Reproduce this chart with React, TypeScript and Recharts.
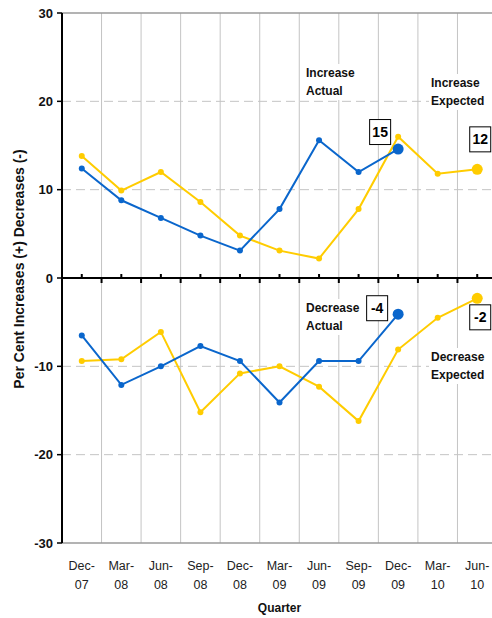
import React from 'react'
import {
  LineChart,
  Line,
  XAxis,
  YAxis,
  CartesianGrid,
  ReferenceLine,
  LabelList,
} from 'recharts'

const quarters = ['Dec-07', 'Mar-08', 'Jun-08', 'Sep-08', 'Dec-08', 'Mar-09', 'Jun-09', 'Sep-09', 'Dec-09', 'Mar-10', 'Jun-10']

const increaseActual = [12.4, 8.8, 6.8, 4.8, 3.1, 7.8, 15.6, 12.0, 14.6, null, null]
const increaseExpected = [13.8, 9.9, 12.0, 8.6, 4.8, 3.1, 2.2, 7.8, 16.0, 11.8, 12.3]
const decreaseActual = [-6.5, -12.1, -10.0, -7.7, -9.4, -14.1, -9.4, -9.4, -4.1, null, null]
const decreaseExpected = [-9.4, -9.2, -6.1, -15.2, -10.8, -10.0, -12.3, -16.2, -8.1, -4.5, -2.3]

const upperTicks = [0, 10, 20, 30]
const lowerTicks = [-30, -20, -10]
const upperDashes = [10, 20]
const lowerDashes = [-10, -20]

const BLUE = '#0a66cc'
const YELLOW = '#ffcc00'
const GRID = '#c4c4c4'
const FRAME = '#9a9a9a'

const CHART_W = 500
const AXIS_W = 62
const RIGHT_PAD = 3
const BAND = (CHART_W - AXIS_W - RIGHT_PAD) / quarters.length

const data = quarters.map((q, i) => ({
  idx: i,
  quarter: q,
  incActual: increaseActual[i],
  incExpected: increaseExpected[i],
  decActual: decreaseActual[i],
  decExpected: decreaseExpected[i],
}))

const lastIndex = (arr: (number | null)[]) => {
  let k = -1
  arr.forEach((v, i) => {
    if (v != null) k = i
  })
  return k
}

// boundaries between quarters for the vertical grid
const bandLines = ({ offset }: any) =>
  quarters.slice(1).map((_, i) => offset.left + (offset.width / quarters.length) * (i + 1))

const makeDot = (color: string, highlight: number) => (props: any) => {
  const { cx, cy, index, value } = props
  if (value == null || cy == null) return <g key={`d-${index}`} />
  return <circle key={`d-${index}`} cx={cx} cy={cy} r={index === highlight ? 5.5 : 3} fill={color} stroke="none" />
}

const makeBoxLabel = (highlight: number, dx: number, dy: number) => (props: any) => {
  const { x, y, value, index } = props
  if (index !== highlight || value == null) return null
  const w = 21
  const h = 25
  const cx = x + dx
  const cy = y + dy
  return (
    <g>
      <rect x={cx - w / 2} y={cy - h / 2} width={w} height={h} fill="#fff" stroke="#000" strokeWidth={1} />
      <text x={cx} y={cy + 5} textAnchor="middle" fontSize={14} fontWeight={700} fill="#000">
        {Math.round(value)}
      </text>
    </g>
  )
}

// zero line ticks: short up-tick at each quarter, short down-tick at each boundary
const ZeroTick = (props: any) => {
  const { x, y } = props
  return (
    <g>
      <line x1={x} y1={y} x2={x} y2={y - 4} stroke="#000" strokeWidth={2} />
      <line x1={x - BAND / 2} y1={y} x2={x - BAND / 2} y2={y + 5} stroke="#000" strokeWidth={2} />
    </g>
  )
}

const QuarterTick = (props: any) => {
  const { x, y, payload } = props
  const [mon, yr] = quarters[payload.value].split('-')
  return (
    <text x={x} y={y} textAnchor="middle" fontSize={12.5} fill="#222">
      <tspan x={x} dy={27}>{mon}-</tspan>
      <tspan x={x} dy={19}>{yr}</tspan>
    </text>
  )
}

const yTick = { fontSize: 13, fontWeight: 700, fill: '#111' }

// caption text boxes with white fill
const Caption = ({ x, y, w, lines }: { x: number; y: number; w: number; lines: string[] }) => (
  <g>
    <rect x={x - 2} y={y - 13} width={w} height={lines.length * 17 + 2} fill="#fff" />
    {lines.map((t, i) => (
      <text key={t} x={x} y={y + i * 17.5} fontSize={12} fontWeight={700} fill="#111">
        {t}
      </text>
    ))}
  </g>
)

export default function App() {
  const iaLast = lastIndex(increaseActual)
  const ieLast = lastIndex(increaseExpected)
  const daLast = lastIndex(decreaseActual)
  const deLast = lastIndex(decreaseExpected)

  return (
    <div
      style={{
        position: 'absolute',
        left: 0,
        top: 0,
        width: 492,
        height: 618,
        overflow: 'hidden',
        background: '#fff',
        fontFamily: '"Liberation Sans", Arial, sans-serif',
      }}
    >
      <div style={{ position: 'absolute', left: 0, top: 268 }}>
        <LineChart width={CHART_W} height={350} data={data} margin={{ top: 10, right: RIGHT_PAD, bottom: 0, left: 0 }}>
          <CartesianGrid horizontal={false} stroke={GRID} verticalCoordinatesGenerator={bandLines} />
          {lowerDashes.map((v) => (
            <ReferenceLine key={v} y={v} stroke={GRID} strokeDasharray="9 5" />
          ))}
          <XAxis
            dataKey="idx"
            type="number"
            domain={[-0.5, quarters.length - 0.5]}
            ticks={quarters.map((_, i) => i)}
            allowDataOverflow
            height={75}
            axisLine={{ stroke: FRAME, strokeWidth: 1.5 }}
            tickLine={false}
            tickSize={0}
            tickMargin={0}
            tick={<QuarterTick />}
            interval={0}
            label={{ value: 'Quarter', position: 'insideBottom', offset: 6, fontSize: 12, fontWeight: 700, fill: '#111' }}
          />
          <YAxis
            domain={[-30, 0]}
            ticks={lowerTicks}
            width={AXIS_W}
            axisLine={{ stroke: '#000', strokeWidth: 2 }}
            tickLine={{ stroke: '#000', strokeWidth: 1.5 }}
            tickSize={5}
            tickMargin={4}
            tick={yTick}
            allowDataOverflow
          />
          <Line
            dataKey="decExpected"
            stroke={YELLOW}
            strokeWidth={2}
            dot={makeDot(YELLOW, deLast)}
            activeDot={false}
            isAnimationActive={false}
          >
            <LabelList dataKey="decExpected" content={makeBoxLabel(deLast, 3, 19)} />
          </Line>
          <Line
            dataKey="decActual"
            stroke={BLUE}
            strokeWidth={2}
            dot={makeDot(BLUE, daLast)}
            activeDot={false}
            connectNulls={false}
            isAnimationActive={false}
          >
            <LabelList dataKey="decActual" content={makeBoxLabel(daLast, -21, -6)} />
          </Line>
        </LineChart>
      </div>

      <div style={{ position: 'absolute', left: 0, top: 0 }}>
        <LineChart width={CHART_W} height={290} data={data} margin={{ top: 13, right: RIGHT_PAD, bottom: 0, left: 0 }}>
          <CartesianGrid horizontal={false} stroke={GRID} verticalCoordinatesGenerator={bandLines} />
          {upperDashes.map((v) => (
            <ReferenceLine key={v} y={v} stroke={GRID} strokeDasharray="9 5" />
          ))}
          <ReferenceLine y={30} stroke={FRAME} strokeWidth={1.5} />
          <XAxis
            dataKey="idx"
            type="number"
            domain={[-0.5, quarters.length - 0.5]}
            ticks={quarters.map((_, i) => i)}
            allowDataOverflow
            height={12}
            axisLine={{ stroke: '#000', strokeWidth: 2 }}
            tickLine={false}
            tickSize={0}
            tickMargin={0}
            tick={<ZeroTick />}
            interval={0}
          />
          <YAxis
            domain={[0, 30]}
            ticks={upperTicks}
            width={AXIS_W}
            axisLine={{ stroke: '#000', strokeWidth: 2 }}
            tickLine={{ stroke: '#000', strokeWidth: 1.5 }}
            tickSize={5}
            tickMargin={4}
            tick={yTick}
            allowDataOverflow
          />
          <Line
            dataKey="incExpected"
            stroke={YELLOW}
            strokeWidth={2}
            dot={makeDot(YELLOW, ieLast)}
            activeDot={false}
            isAnimationActive={false}
          >
            <LabelList dataKey="incExpected" content={makeBoxLabel(ieLast, 3, -30)} />
          </Line>
          <Line
            dataKey="incActual"
            stroke={BLUE}
            strokeWidth={2}
            dot={makeDot(BLUE, iaLast)}
            activeDot={false}
            connectNulls={false}
            isAnimationActive={false}
          >
            <LabelList dataKey="incActual" content={makeBoxLabel(iaLast, -18, -17)} />
          </Line>
        </LineChart>
      </div>

      {/* axis title and series captions */}
      <svg width={492} height={618} style={{ position: 'absolute', left: 0, top: 0, pointerEvents: 'none' }}>
        <text
          transform="translate(24 269) rotate(-90)"
          textAnchor="middle"
          fontSize={14}
          fontWeight={700}
          fill="#111"
        >
          Per Cent Increases (+) Decreases (-)
        </text>
        <Caption x={306} y={77} w={54} lines={['Increase', 'Actual']} />
        <Caption x={431} y={87} w={62} lines={['Increase', 'Expected']} />
        <Caption x={306} y={312} w={58} lines={['Decrease', 'Actual']} />
        <Caption x={431} y={361} w={62} lines={['Decrease', 'Expected']} />
      </svg>
    </div>
  )
}
